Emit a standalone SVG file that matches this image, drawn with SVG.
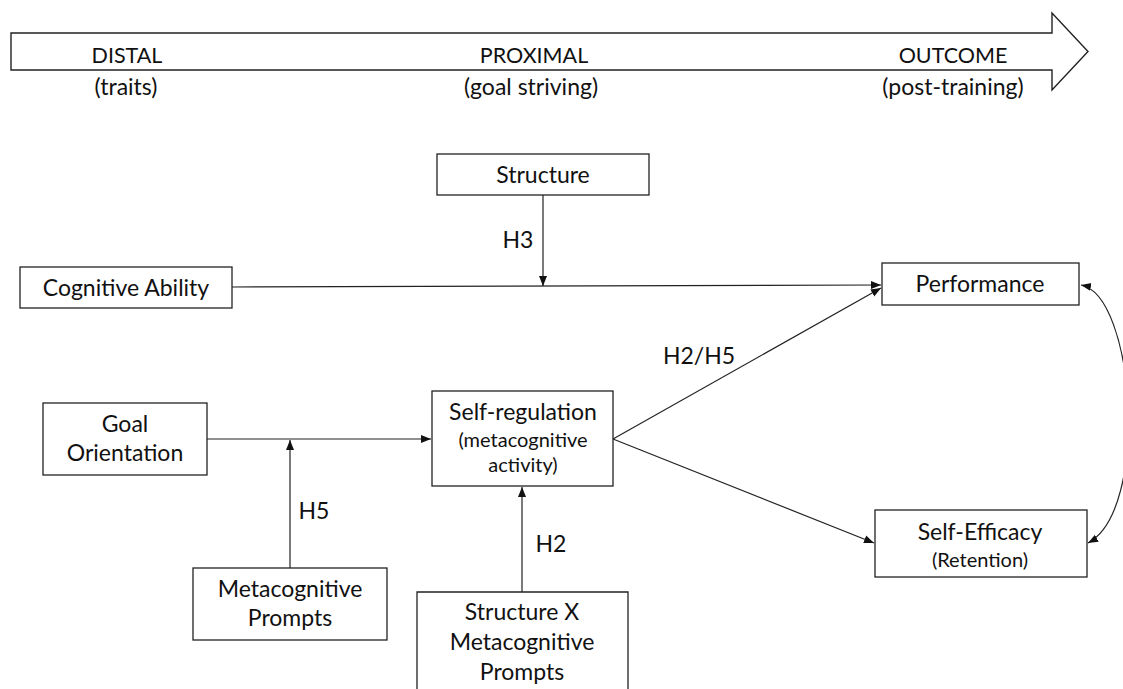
<svg xmlns="http://www.w3.org/2000/svg" width="1123" height="689" viewBox="0 0 1123 689">
<style>
text{font-family:Lato,"Open Sans","Liberation Sans",sans-serif;fill:#111;text-anchor:middle;font-size:23px}
.s{font-size:20px}
.cap{font-size:21.5px}
.box{fill:#fff;stroke:#222;stroke-width:1.3}
.c{fill:none;stroke:#222;stroke-width:1.2}
</style>
<defs>
<marker id="ah" markerUnits="userSpaceOnUse" markerWidth="11" markerHeight="9" refX="10" refY="4" orient="auto-start-reverse" viewBox="0 0 11 8">
<path d="M0,0 L10,4 L0,8 z" fill="#111"/>
</marker>
</defs>
<g id="timeline">
<polygon points="11,33 1052,33 1052,13 1088,51.5 1052,90 1052,70 11,70" fill="#fff" stroke="#222" stroke-width="1.4"/>
<text class="cap" x="127" y="63">DISTAL</text>
<text x="126" y="95">(traits)</text>
<text class="cap" x="534" y="63">PROXIMAL</text>
<text x="531" y="95">(goal striving)</text>
<text class="cap" x="953" y="63">OUTCOME</text>
<text x="953" y="95">(post-training)</text>
</g>
<g id="connectors">
<line class="c" x1="232" y1="287" x2="881" y2="285" marker-end="url(#ah)"/>
<line class="c" x1="543" y1="195" x2="543" y2="286" marker-end="url(#ah)"/>
<line class="c" x1="207" y1="439" x2="431" y2="439" marker-end="url(#ah)"/>
<line class="c" x1="290" y1="568" x2="290" y2="440" marker-end="url(#ah)"/>
<line class="c" x1="613" y1="439" x2="881" y2="288" marker-end="url(#ah)"/>
<line class="c" x1="613" y1="439" x2="874" y2="543" marker-end="url(#ah)"/>
<line class="c" x1="522" y1="592" x2="522" y2="487" marker-end="url(#ah)"/>
<path class="c" d="M1081,285 C1135,295 1150,510 1088,543" marker-start="url(#ah)" marker-end="url(#ah)"/>
<text x="518" y="248">H3</text>
<text x="314" y="519">H5</text>
<text x="551" y="552">H2</text>
<text x="699" y="364">H2/H5</text>
</g>
<g id="structure">
<rect class="box" x="437" y="154" width="212" height="41"/>
<text x="543" y="183">Structure</text>
</g>
<g id="cognitive-ability">
<rect class="box" x="20" y="267" width="212" height="41"/>
<text x="126" y="296">Cognitive Ability</text>
</g>
<g id="performance">
<rect class="box" x="882" y="263" width="197" height="42"/>
<text x="980" y="292">Performance</text>
</g>
<g id="goal-orientation">
<rect class="box" x="43" y="403" width="164" height="72"/>
<text x="125" y="432">Goal</text>
<text x="125" y="461">Orientation</text>
</g>
<g id="self-regulation">
<rect class="box" x="432" y="391" width="181" height="95"/>
<text x="523" y="420">Self-regulation</text>
<text class="s" x="523" y="447">(metacognitive</text>
<text class="s" x="523" y="472">activity)</text>
</g>
<g id="metacognitive-prompts">
<rect class="box" x="193" y="568" width="194" height="72"/>
<text x="290" y="597">Metacognitive</text>
<text x="290" y="626">Prompts</text>
</g>
<g id="structure-x-prompts">
<path class="box" d="M417,700 V592 H628 V700"/>
<text x="522" y="620">Structure X</text>
<text x="522" y="650">Metacognitive</text>
<text x="522" y="680">Prompts</text>
</g>
<g id="self-efficacy">
<rect class="box" x="875" y="510" width="212" height="67"/>
<text x="980" y="540">Self-Efficacy</text>
<text class="s" x="980" y="567">(Retention)</text>
</g>
</svg>
